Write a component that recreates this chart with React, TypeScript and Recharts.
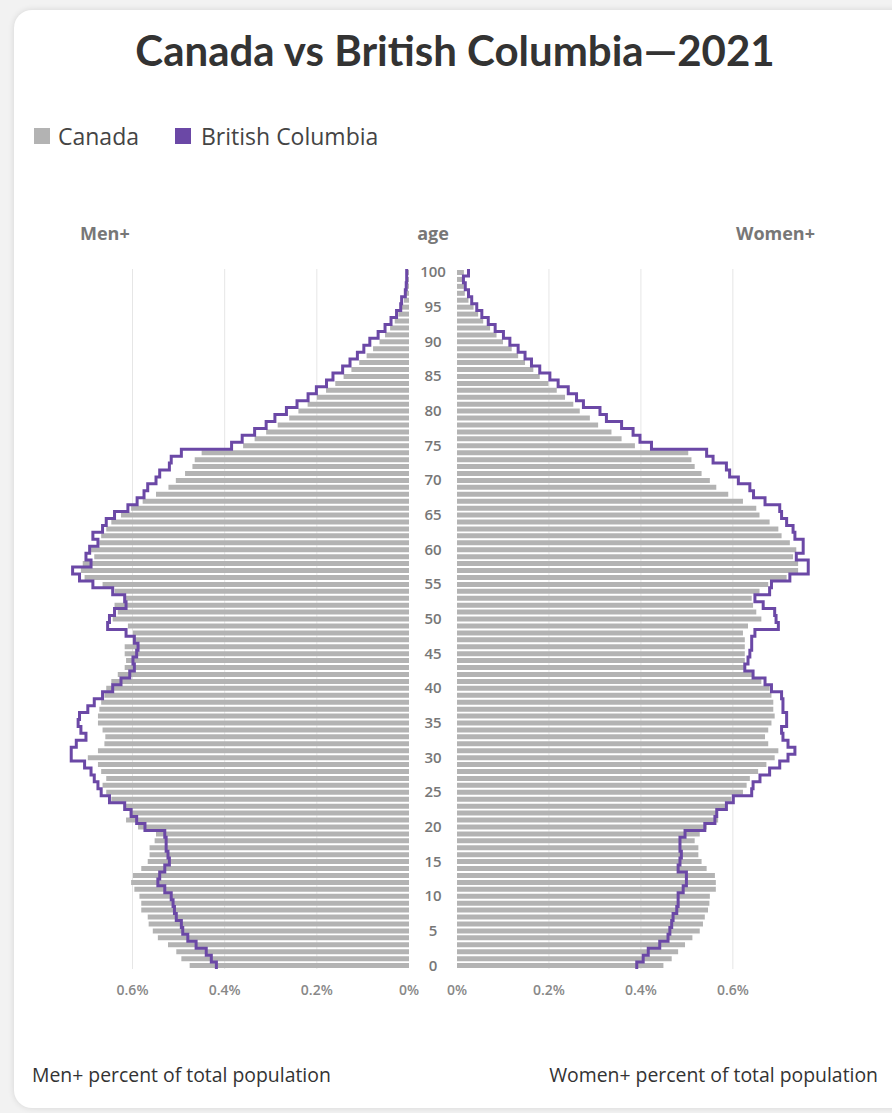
import { Bar, CartesianGrid, ComposedChart, Line, XAxis, YAxis } from "recharts";

// % of total population by single year of age, index = age (0..100)
const CANADA_MEN = [
  0.476, 0.494, 0.505, 0.523, 0.545, 0.556, 0.565, 0.567, 0.581, 0.581,
  0.585, 0.596, 0.603, 0.599, 0.581, 0.567, 0.563, 0.563, 0.552, 0.549,
  0.588, 0.614, 0.606, 0.617, 0.646, 0.657, 0.665, 0.657, 0.668, 0.675,
  0.697, 0.675, 0.661, 0.659, 0.665, 0.675, 0.675, 0.672, 0.668, 0.661,
  0.657, 0.646, 0.632, 0.617, 0.614, 0.617, 0.617, 0.596, 0.599, 0.61,
  0.643, 0.632, 0.639, 0.617, 0.639, 0.665, 0.704, 0.712, 0.708, 0.683,
  0.69, 0.672, 0.668, 0.657, 0.646, 0.625, 0.603, 0.578, 0.549, 0.522,
  0.506, 0.486, 0.47, 0.465, 0.45, 0.36, 0.335, 0.31, 0.285, 0.26,
  0.24, 0.22, 0.2, 0.18, 0.16, 0.142, 0.125, 0.108, 0.092, 0.078,
  0.064, 0.052, 0.041, 0.031, 0.023, 0.016, 0.011, 0.007, 0.004, 0.003,
  0.002,
];
const BC_MEN = [
  0.418, 0.429, 0.44, 0.462, 0.48, 0.491, 0.494, 0.505, 0.509, 0.512,
  0.516, 0.53, 0.545, 0.541, 0.53, 0.52, 0.523, 0.527, 0.527, 0.53,
  0.573, 0.591, 0.603, 0.617, 0.65, 0.668, 0.675, 0.683, 0.69, 0.704,
  0.733, 0.733, 0.722, 0.701, 0.712, 0.718, 0.715, 0.697, 0.683, 0.665,
  0.643, 0.625, 0.606, 0.596, 0.599, 0.591, 0.588, 0.596, 0.614, 0.654,
  0.65, 0.639, 0.614, 0.617, 0.643, 0.686, 0.715, 0.73, 0.69, 0.701,
  0.693, 0.675, 0.686, 0.665, 0.657, 0.639, 0.61, 0.59, 0.575, 0.567,
  0.549, 0.541, 0.52, 0.516, 0.494, 0.385, 0.362, 0.335, 0.31, 0.291,
  0.266, 0.243, 0.219, 0.201, 0.179, 0.165, 0.144, 0.128, 0.112, 0.098,
  0.085, 0.067, 0.052, 0.039, 0.027, 0.018, 0.016, 0.008, 0.006, 0.005,
  0.005,
];
const CANADA_WOMEN = [
  0.449, 0.467, 0.481, 0.496, 0.512, 0.528, 0.535, 0.539, 0.546, 0.549,
  0.55, 0.563, 0.563, 0.561, 0.543, 0.532, 0.525, 0.525, 0.517, 0.528,
  0.543, 0.568, 0.565, 0.583, 0.597, 0.622, 0.63, 0.637, 0.655, 0.673,
  0.691, 0.699, 0.677, 0.67, 0.677, 0.684, 0.691, 0.688, 0.688, 0.684,
  0.68, 0.662, 0.644, 0.626, 0.626, 0.626, 0.626, 0.626, 0.622, 0.633,
  0.662, 0.651, 0.644, 0.641, 0.658, 0.677, 0.717, 0.742, 0.742, 0.731,
  0.738, 0.724, 0.706, 0.699, 0.68, 0.658, 0.651, 0.622, 0.59, 0.564,
  0.55, 0.532, 0.517, 0.51, 0.503, 0.387, 0.358, 0.336, 0.307, 0.289,
  0.267, 0.253, 0.235, 0.217, 0.199, 0.18, 0.166, 0.148, 0.133, 0.119,
  0.1, 0.086, 0.072, 0.057, 0.046, 0.036, 0.025, 0.017, 0.015, 0.014,
  0.015,
];
const BC_WOMEN = [
  0.391, 0.405, 0.416, 0.441, 0.459, 0.463, 0.467, 0.47, 0.478, 0.481,
  0.481, 0.492, 0.499, 0.499, 0.481, 0.485, 0.488, 0.485, 0.485, 0.496,
  0.539, 0.561, 0.565, 0.586, 0.601, 0.641, 0.644, 0.659, 0.68, 0.702,
  0.72, 0.735, 0.72, 0.709, 0.706, 0.717, 0.717, 0.709, 0.709, 0.706,
  0.684, 0.67, 0.644, 0.626, 0.633, 0.637, 0.641, 0.641, 0.648, 0.699,
  0.694, 0.691, 0.666, 0.648, 0.68, 0.684, 0.724, 0.764, 0.764, 0.738,
  0.753, 0.753, 0.735, 0.731, 0.717, 0.706, 0.702, 0.67, 0.645, 0.637,
  0.612, 0.593, 0.586, 0.557, 0.543, 0.423, 0.398, 0.383, 0.358, 0.325,
  0.311, 0.275, 0.26, 0.242, 0.22, 0.202, 0.18, 0.162, 0.148, 0.133,
  0.115, 0.101, 0.083, 0.068, 0.054, 0.043, 0.032, 0.025, 0.018, 0.014,
  0.025,
];

const PCT_TICKS = [0, 0.2, 0.4, 0.6];
const GRID_VALUES = [0.2, 0.4, 0.6];

const GRAY = "#b3b3b3";
const PURPLE = "#6b48a6";
const FONT = "'Open Sans', sans-serif";

// oldest at the top
const rows = CANADA_MEN.map((_, age) => ({
  age,
  canadaMen: CANADA_MEN[age],
  bcMen: BC_MEN[age],
  canadaWomen: CANADA_WOMEN[age],
  bcWomen: BC_WOMEN[age],
})).reverse();

// step outline: vertical run through each age band, horizontal jump at band edges
function stepY(context: any) {
  let pts: [number, number][] = [];
  return {
    areaStart() {},
    areaEnd() {},
    lineStart() {
      pts = [];
    },
    point(x: number, y: number) {
      pts.push([+x, +y]);
    },
    lineEnd() {
      if (!pts.length) return;
      const half = pts.length > 1 ? (pts[1][1] - pts[0][1]) / 2 : 0;
      context.moveTo(pts[0][0], pts[0][1] - half);
      for (let i = 1; i < pts.length; i++) {
        const mid = (pts[i - 1][1] + pts[i][1]) / 2;
        context.lineTo(pts[i - 1][0], mid);
        context.lineTo(pts[i][0], mid);
      }
      const last = pts[pts.length - 1];
      context.lineTo(last[0], last[1] + half);
    },
  };
}

const pctLabel = (v: number) => `${v}%`;
const tickStyle = { fill: "#888", fontSize: 14, fontWeight: 600, fontFamily: FONT };

function AgeTick({ x, y, payload }: any) {
  return (
    <text x={x} y={y} dy={5} textAnchor="middle" fill="#777" fontSize={15} fontWeight={600} fontFamily={FONT}>
      {payload.value}
    </text>
  );
}

const CHART_H = 740;
const MEN_MARGIN = { top: 8, right: 20, bottom: 0, left: 0 };
const WOMEN_MARGIN = { top: 8, right: 0, bottom: 0, left: 0 };

export default function App() {
  return (
    <div style={{ position: "absolute", left: 0, top: 0, width: 892, height: 1113, background: "#f2f2f2", overflow: "hidden", fontFamily: FONT }}>
      <div
        style={{
          position: "absolute",
          left: 14,
          top: 10,
          width: 900,
          height: 1098,
          background: "#fff",
          borderRadius: 18,
          boxShadow: "0 0 6px rgba(0,0,0,0.12)",
        }}
      />
      <div
        style={{
          position: "absolute",
          left: 14,
          top: 24,
          width: 882,
          textAlign: "center",
          fontFamily: "Lato, sans-serif",
          fontWeight: 700,
          fontSize: 42,
          lineHeight: "52px",
          color: "#333",
        }}
      >
        Canada vs British Columbia—2021
      </div>

      {/* legend */}
      <div style={{ position: "absolute", left: 34, top: 121, display: "flex", alignItems: "center", fontSize: 23, color: "#444", lineHeight: "30px" }}>
        <span style={{ width: 16, height: 16, background: GRAY, display: "inline-block", marginRight: 8 }} />
        <span>Canada</span>
        <span style={{ width: 16, height: 16, background: PURPLE, display: "inline-block", marginLeft: 36, marginRight: 10 }} />
        <span>British Columbia</span>
      </div>

      {/* panel headers */}
      <div style={{ position: "absolute", top: 221, left: 0, width: 892, fontSize: 18, fontWeight: 700, color: "#777", lineHeight: "24px" }}>
        <span style={{ position: "absolute", left: 80 }}>Men+</span>
        <span style={{ position: "absolute", left: 333, width: 200, textAlign: "center" }}>age</span>
        <span style={{ position: "absolute", left: 736 }}>Women+</span>
      </div>

      {/* men */}
      <div style={{ position: "absolute", left: 68, top: 260.5 }}>
        <ComposedChart width={361} height={CHART_H} data={rows} layout="vertical" margin={MEN_MARGIN} barCategoryGap={0}>
          <CartesianGrid horizontal={false} verticalValues={GRID_VALUES} stroke="#e6e6e6" />
          <XAxis
            type="number"
            domain={[0, 0.74]}
            reversed
            ticks={PCT_TICKS}
            interval={0}
            tickFormatter={pctLabel}
            axisLine={false}
            tickLine={false}
            tickSize={8}
            tickMargin={8}
            height={32}
            tick={tickStyle}
            allowDataOverflow
          />
          <YAxis type="category" dataKey="age" hide />
          <Bar dataKey="canadaMen" name="Canada" fill={GRAY} barSize={5} isAnimationActive={false} />
          <Line
            dataKey="bcMen"
            name="British Columbia"
            type={stepY as any}
            stroke={PURPLE}
            strokeWidth={3}
            dot={false}
            activeDot={false}
            isAnimationActive={false}
          />
        </ComposedChart>
      </div>

      {/* women, with the age axis in the gap */}
      <div style={{ position: "absolute", left: 409, top: 260.5 }}>
        <ComposedChart width={402} height={CHART_H} data={rows} layout="vertical" margin={WOMEN_MARGIN} barCategoryGap={0}>
          <CartesianGrid horizontal={false} verticalValues={GRID_VALUES} stroke="#e6e6e6" />
          <XAxis
            type="number"
            domain={[0, 0.77]}
            ticks={PCT_TICKS}
            interval={0}
            tickFormatter={pctLabel}
            axisLine={false}
            tickLine={false}
            tickSize={8}
            tickMargin={8}
            height={32}
            tick={tickStyle}
            allowDataOverflow
          />
          <YAxis
            type="category"
            dataKey="age"
            width={48}
            interval={4}
            axisLine={false}
            tickLine={false}
            tickSize={0}
            tickMargin={24}
            tick={<AgeTick />}
          />
          <Bar dataKey="canadaWomen" name="Canada" fill={GRAY} barSize={5} isAnimationActive={false} />
          <Line
            dataKey="bcWomen"
            name="British Columbia"
            type={stepY as any}
            stroke={PURPLE}
            strokeWidth={3}
            dot={false}
            activeDot={false}
            isAnimationActive={false}
          />
        </ComposedChart>
      </div>

      <div style={{ position: "absolute", left: 32, top: 1061, fontSize: 19.4, color: "#333", lineHeight: "28px" }}>
        Men+ percent of total population
      </div>
      <div style={{ position: "absolute", right: 14, top: 1061, fontSize: 19.4, color: "#333", lineHeight: "28px" }}>
        Women+ percent of total population
      </div>
    </div>
  );
}
